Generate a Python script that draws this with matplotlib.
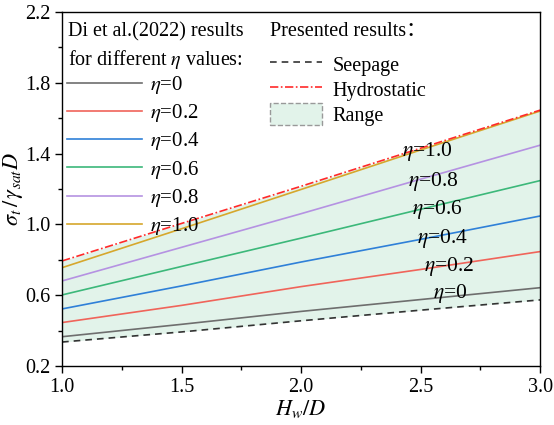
import matplotlib
matplotlib.use('Agg')
import matplotlib.pyplot as plt
from matplotlib.patches import Patch
from matplotlib.ticker import MultipleLocator, FixedLocator

plt.rcParams['font.family'] = ['Liberation Serif', 'Noto Sans CJK SC']
plt.rcParams['mathtext.fontset'] = 'stix'

# Donnees
hw_d = [1.0, 1.5, 2.0, 2.5, 3.0]
seepage = [0.335, 0.392, 0.455, 0.515, 0.573]
hydrostatic = [0.793, 1.005, 1.215, 1.430, 1.645]
eta_values = ['0', '0.2', '0.4', '0.6', '0.8', '1.0']
di_results = [
    [0.365, 0.435, 0.508, 0.575, 0.642],
    [0.445, 0.542, 0.648, 0.745, 0.846],
    [0.522, 0.652, 0.787, 0.915, 1.047],
    [0.601, 0.762, 0.922, 1.085, 1.247],
    [0.680, 0.870, 1.060, 1.255, 1.447],
    [0.755, 0.975, 1.197, 1.420, 1.640],
]
eta_colors = ['#6e6e6e', '#f0645a', '#2f80d8', '#3cb87a', '#b592e2', '#d6a72c']
label_pos = [(2.625, 0.61), (2.62, 0.762), (2.59, 0.922), (2.57, 1.086), (2.552, 1.24), (2.527, 1.414)]
y_major = [0.2, 0.6, 1.0, 1.4, 1.8, 2.2]

fig = plt.figure(figsize=(5.54, 4.25), dpi=100)
ax = fig.add_axes([0.112, 0.139, 0.863, 0.833])

# Zone entre seepage et hydrostatic
ax.fill_between(hw_d, seepage, hydrostatic, color='#e2f3ea', lw=0)

di_handles = []
for eta, vals, col in zip(eta_values, di_results, eta_colors):
    h, = ax.plot(hw_d, vals, color=col, lw=1.2, label=r'$\eta$=' + eta)
    di_handles.append(h)

h_seep, = ax.plot(hw_d, seepage, color='#333333', lw=1.2, ls=(0, (4, 3)), label='Seepage')
h_hydro, = ax.plot(hw_d, hydrostatic, color='#ff2a2a', lw=1.2, ls=(0, (5, 1.5, 1, 1.5)),
                   label='Hydrostatic')

for eta, (xp, yp) in zip(eta_values, label_pos):
    ax.text(xp, yp, r'$\eta$=' + eta, fontsize=15.5, ha='center', va='center')

ax.set_xlim(1.0, 3.0)
ax.set_ylim(0.2, 2.2)
ax.xaxis.set_major_locator(MultipleLocator(0.5))
ax.xaxis.set_minor_locator(MultipleLocator(0.25))
ax.yaxis.set_major_locator(FixedLocator(y_major))
ax.yaxis.set_minor_locator(MultipleLocator(0.2))
ax.xaxis.set_major_formatter(plt.FormatStrFormatter('%.1f'))
ax.yaxis.set_major_formatter(plt.FormatStrFormatter('%.1f'))
ax.tick_params(which='major', direction='out', length=5, width=1, labelsize=14.5)
ax.tick_params(which='minor', direction='out', length=3, width=1)
for sp in ax.spines.values():
    sp.set_linewidth(1.0)

ax.set_xlabel(r'$H_w/D$', fontsize=16, labelpad=1)
ax.set_ylabel(r'$\sigma_t\,/\,\gamma_{sat}D$', fontsize=16, labelpad=0)

# Titres des legendes
ax.text(0.0126, 0.9435, 'Di et al.(2022) results', transform=ax.transAxes,
        fontsize=14.5, ha='left', va='center')
ax.text(0.0126, 0.8644, 'for different $\\eta$ values:', transform=ax.transAxes,
        fontsize=14.5, ha='left', va='center')
ax.text(0.435, 0.9435, 'Presented results：', transform=ax.transAxes,
        fontsize=14.5, ha='left', va='center')

leg1 = ax.legend(handles=di_handles, loc='upper left', bbox_to_anchor=(-0.02, 0.866),
                 frameon=False, fontsize=15, handlelength=3.6,
                 handletextpad=0.4, labelspacing=0.3, borderaxespad=0.3)
ax.add_artist(leg1)

range_patch = Patch(facecolor='#e2f3ea', edgecolor='#999999', ls='--', lw=1.0, label='Range')
leg2 = ax.legend(handles=[h_seep, h_hydro, range_patch], loc='upper left',
                 bbox_to_anchor=(0.405, 0.924),
                 frameon=False, fontsize=14.5, handlelength=2.6,
                 handleheight=1.3, handletextpad=0.5, labelspacing=0.12,
                 borderaxespad=0.3)

fig.savefig('out.png', dpi=100)
